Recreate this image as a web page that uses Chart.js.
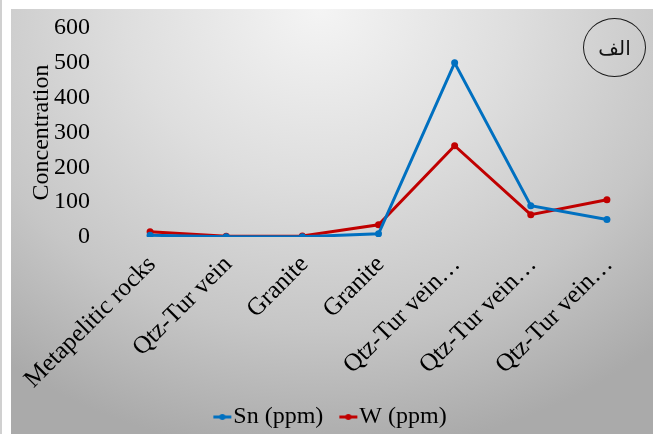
<!DOCTYPE html>
<html>
<head>
<meta charset="utf-8">
<script src="https://cdn.jsdelivr.net/npm/chart.js@4"></script>
<style>
  html, body { margin: 0; padding: 0; background: #ffffff; width: 653px; height: 434px; overflow: hidden; }
  #edge { position: absolute; left: 0; top: 0; width: 2px; height: 434px; background: #d0d0d0; }
  #panel { position: absolute; left: 11px; top: 9px; width: 642px; height: 425px; overflow: hidden;
    background: radial-gradient(ellipse 80% 105% at 48% 0%, #f4f4f4 0%, #dedede 38%, #c6c6c6 72%, #aaaaaa 100%); }
  #panel canvas { position: absolute; left: 0; top: 0; }
  #badge { position: absolute; left: 572px; top: 9px; width: 61px; height: 57px; border: 1.3px solid #1a1a1a;
    border-radius: 50%; display: flex; align-items: center; justify-content: center;
    font-family: "DejaVu Sans", sans-serif; font-size: 20px; color: #111; direction: rtl; }
</style>
</head>
<body>
<div id="edge"></div>
<div id="panel">
  <canvas id="c" width="642" height="425"></canvas>
  <div id="badge">الف</div>
</div>
<script>
const categories = ["Metapelitic rocks", "Qtz-Tur vein", "Granite", "Granite", "Qtz-Tur vein…", "Qtz-Tur vein…", "Qtz-Tur vein…"];
const snValues = [5, 1, 1, 9, 500, 90, 50];
const wValues = [15, 2, 3, 35, 262, 64, 107];
const yTicks = [0, 100, 200, 300, 400, 500, 600];
const seriesNames = ["Sn (ppm)", "W (ppm)"];
const seriesColors = ["#0070C0", "#C00000"];

function legendIcon(color) {
  const cv = document.createElement('canvas');
  cv.width = 36; cv.height = 10;
  const g = cv.getContext('2d');
  g.strokeStyle = color; g.lineWidth = 3;
  g.beginPath(); g.moveTo(16, 5); g.lineTo(34, 5); g.stroke();
  g.fillStyle = color;
  g.beginPath(); g.arc(25, 5, 3, 0, Math.PI * 2); g.fill();
  return cv;
}
const icons = seriesColors.map(legendIcon);

const serif = "'Liberation Serif', 'Times New Roman', serif";

new Chart(document.getElementById('c'), {
  type: 'line',
  data: {
    labels: categories,
    datasets: [
      { label: seriesNames[0], data: snValues, borderColor: seriesColors[0], backgroundColor: seriesColors[0],
        borderWidth: 3, pointRadius: 3.5, pointBorderWidth: 0, tension: 0 },
      { label: seriesNames[1], data: wValues, borderColor: seriesColors[1], backgroundColor: seriesColors[1],
        borderWidth: 3, pointRadius: 3.5, pointBorderWidth: 0, tension: 0 }
    ]
  },
  options: {
    responsive: false,
    animation: false,
    devicePixelRatio: 1,
    layout: { padding: { left: 0, right: 8, top: 19, bottom: -5 } },
    plugins: {
      tooltip: { enabled: false },
      legend: {
        position: 'bottom',
        labels: {
          color: '#000',
          font: { family: serif, size: 24 },
          usePointStyle: true,
          pointStyleWidth: 12,
          boxHeight: 10,
          padding: 12,
          generateLabels: (chart) => chart.data.datasets.map((ds, i) => ({
            text: ds.label, fillStyle: ds.borderColor, strokeStyle: ds.borderColor,
            lineWidth: 0, pointStyle: icons[i], hidden: false, datasetIndex: i, fontColor: '#000'
          }))
        }
      }
    },
    scales: {
      x: {
        type: 'category',
        offset: true,
        grid: { display: false, drawTicks: false },
        border: { display: false },
        ticks: { color: '#000', font: { family: serif, size: 25 }, minRotation: 45, maxRotation: 45,
          autoSkip: false, padding: 13, labelOffset: 2 },
        afterFit: (s) => { s.height = 156; s.paddingLeft = 0; s.paddingRight = 0; }
      },
      y: {
        min: 0, max: 600,
        afterBuildTicks: (s) => { s.ticks = yTicks.map(v => ({ value: v })); },
        grid: { display: false, drawTicks: false },
        border: { display: false },
        ticks: { color: '#000', font: { family: serif, size: 24 }, padding: 22, autoSkip: false },
        title: { display: true, text: 'Concentration', color: '#000',
          font: { family: serif, size: 24, lineHeight: 1.2 }, padding: { top: 16, bottom: 0 } },
        afterFit: (s) => { s.width = 101; s.paddingTop = 0; s.paddingBottom = 0; }
      }
    }
  }
});
</script>
</body>
</html>
